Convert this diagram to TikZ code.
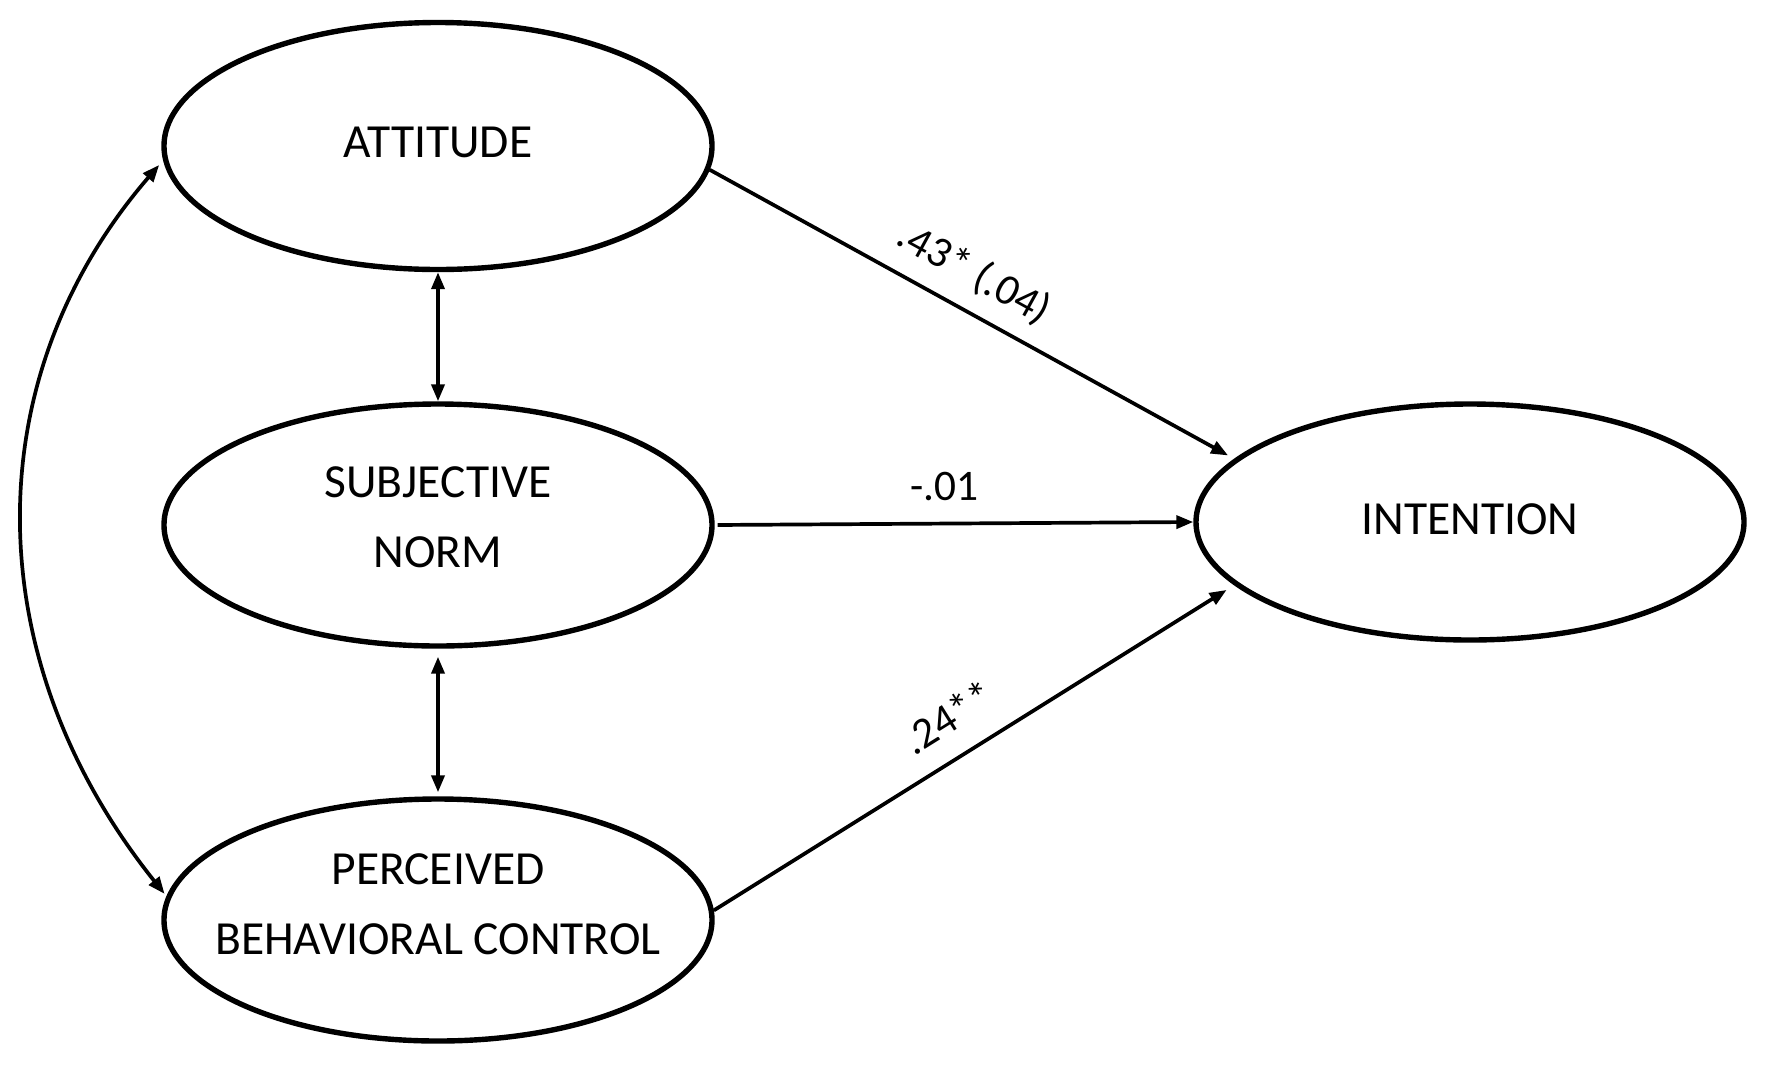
\documentclass[tikz,border=0pt]{standalone}
\usepackage{fontspec}
\setmainfont{Carlito}
\usetikzlibrary{arrows.meta,shapes.geometric}
\begin{document}
\begin{tikzpicture}[x=1pt,y=-1pt,
  latent/.style={draw=black, line width=5.4pt, ellipse, minimum width=548pt, inner sep=0pt},
  txt/.style={font=\fontsize{47.5}{70}\selectfont, inner sep=0pt, align=center},
  lab/.style={font=\fontsize{43.5}{50}\selectfont, inner sep=0pt, sloped, anchor=center},
  path1/.style={line width=3.7pt, -{Triangle[length=17pt,width=13pt]}},
  path2/.style={line width=3.7pt, {Triangle[length=17pt,width=13pt]}-{Triangle[length=17pt,width=13pt]}}
]
\useasboundingbox (0,0) rectangle (1772,1069);
% latent variables
\node[latent, minimum height=247pt] (A) at (438,146) {};
\node[latent, minimum height=242pt] (SN) at (438,525) {};
\node[latent, minimum height=242pt] (PBC) at (438,920) {};
\node[latent, minimum height=236pt, minimum width=548pt] (INT) at (1470,522) {};
% texts
\node[txt, anchor=base] (At) at (438,157) {ATTITUDE};
\node[txt] (SNt) at (438,517) {SUBJECTIVE\\NORM};
\node[txt] (PBCt) at (438,904) {PERCEIVED\\BEHAVIORAL CONTROL};
\node[txt, anchor=base] (INTt) at (1470,534) {INTENTION};
% paths
\draw[path1, shorten >=7pt] (A.-5) -- (INT.165.9)
  node[lab, pos=0.47, yshift=37pt] (l1) {.43* (.04)};
\draw[path1, shorten <=3pt] (SN.east) -- (INT.west)
  node[lab, pos=0.48, yshift=37pt] (l2) {-.01};
\draw[path1, shorten >=9pt] (PBC.2) -- (INT.195.3)
  node[lab, pos=0.49, yshift=40pt] (l3) {.24**};
% covariances
\draw[path2] (A.south) -- (SN.north);
\draw[path2, shorten <=8pt, shorten >=4pt] (SN.south) -- (PBC.north);
\draw[path2, shorten <=6pt, shorten >=3pt] (A.183) .. controls (-24,377) and (-24,658) .. (PBC.175);
\end{tikzpicture}
\end{document}
